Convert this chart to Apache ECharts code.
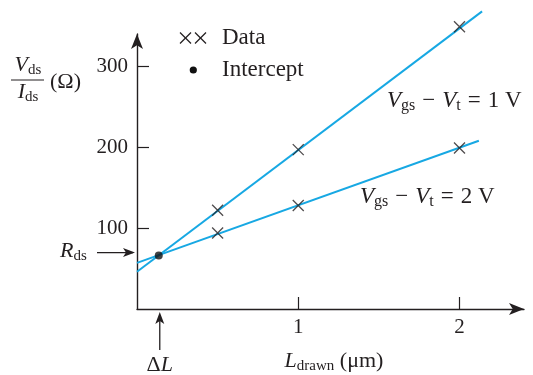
<!DOCTYPE html>
<html>
<head>
<meta charset="utf-8">
<script src="https://cdn.jsdelivr.net/npm/echarts@6/dist/echarts.min.js"></script>
<style>
  html, body { margin: 0; padding: 0; background: #fff; }
  #c { width: 533px; height: 375px; }
</style>
</head>
<body>
<div id="c"></div>
<script>
// Drawn channel length (µm) of the measured devices
const lengths = [0.5, 1, 2];
// Measured Vds/Ids (Ω) for each overdrive
const rVgs1 = [122, 197, 349];
const rVgs2 = [94, 128, 199];
// Straight-line fits through each data set: [L, R] end points
const fitVgs1 = [[0, 46], [2.14, 368]];
const fitVgs2 = [[0, 57], [2.12, 208]];
// Where the two fits cross: [ΔL, Rds]
const intercept = [0.135, 66];
// Axis tick values
const xTicks = [1, 2];
const yTicks = [100, 200, 300];

const F = 'Liberation Serif';
const INK = '#231f20';
const BLUE = '#17a8e3';
const crossPath = 'path://M0,0L10,10M10,0L0,10';

const chart = echarts.init(document.getElementById('c'), null, { renderer: 'canvas' });

const axisCommon = {
  type: 'value',
  splitLine: { show: false },
  axisLine: {
    show: true, onZero: false,
    symbol: ['none', 'arrow'], symbolSize: [9, 15],
    lineStyle: { color: INK, width: 1.4 }
  },
  axisTick: { show: true, inside: true, length: 12, lineStyle: { color: INK, width: 1.2 } },
  axisLabel: { color: INK, fontFamily: F, fontSize: 21 }
};

const crossStyle = { color: 'none', borderColor: INK, borderWidth: 1.3 };

chart.setOption({
  animation: false,
  grid: { left: 137, right: 9, top: 34, bottom: 66, outerBoundsMode: 'none' },
  xAxis: Object.assign({}, axisCommon, {
    min: 0, max: 2.4,
    axisTick: Object.assign({}, axisCommon.axisTick, { customValues: xTicks }),
    axisLabel: Object.assign({}, axisCommon.axisLabel, { customValues: xTicks, margin: 8 })
  }),
  yAxis: Object.assign({}, axisCommon, {
    min: 0, max: 340,
    axisTick: Object.assign({}, axisCommon.axisTick, { customValues: yTicks }),
    axisLabel: Object.assign({}, axisCommon.axisLabel, { customValues: yTicks, margin: 9 })
  }),
  series: [
    { type: 'line', data: fitVgs1, symbol: 'none', clip: false, silent: true,
      lineStyle: { color: BLUE, width: 2 } },
    { type: 'line', data: fitVgs2, symbol: 'none', clip: false, silent: true,
      lineStyle: { color: BLUE, width: 2 } },
    { type: 'scatter', data: lengths.map((x, i) => [x, rVgs1[i]]), clip: false,
      symbol: crossPath, symbolSize: 11, itemStyle: crossStyle, z: 5 },
    { type: 'scatter', data: lengths.map((x, i) => [x, rVgs2[i]]), clip: false,
      symbol: crossPath, symbolSize: 11, itemStyle: crossStyle, z: 5 },
    { type: 'scatter', data: [intercept], clip: false,
      symbol: 'circle', symbolSize: 8, itemStyle: { color: '#111' }, z: 6 }
  ]
});

// Annotations: axis names, legend, fit labels and the Rds / ΔL pointers
const p = chart.convertToPixel({ gridIndex: 0 }, intercept);
const x0 = chart.convertToPixel({ gridIndex: 0 }, [0, 0]);

// rich-text styles: i = italic symbol, n = upright, s = subscript, m = spaced operator
function richSet(size) {
  const sub = Math.round(size * 0.68);
  return {
    i: { fontFamily: F, fontStyle: 'italic', fontSize: size, lineHeight: size + 3, color: INK },
    n: { fontFamily: F, fontSize: size, lineHeight: size + 3, color: INK },
    m: { fontFamily: F, fontSize: size, lineHeight: size + 3, color: INK, padding: [0, 7, 0, 7] },
    s: { fontFamily: F, fontSize: sub, lineHeight: 8, verticalAlign: 'bottom', color: INK }
  };
}

function txt(text, x, y, align, size) {
  return {
    type: 'text', z: 10,
    style: {
      text, x, y, align: align || 'left', verticalAlign: 'middle',
      fontFamily: F, fontSize: size, fill: INK, rich: richSet(size)
    }
  };
}

// arrow head polygon pointing in direction (dx, dy) with tip at (x, y)
function head(x, y, dx, dy) {
  const L = 12, W = 4.5, B = 9;
  const px = -dy, py = dx;
  return {
    type: 'polygon', z: 10,
    shape: { points: [
      [x, y],
      [x - dx * L + px * W, y - dy * L + py * W],
      [x - dx * B, y - dy * B],
      [x - dx * L - px * W, y - dy * L - py * W]
    ] },
    style: { fill: INK }
  };
}

function seg(x1, y1, x2, y2, w) {
  return { type: 'line', z: 10, shape: { x1, y1, x2, y2 }, style: { stroke: INK, lineWidth: w || 1.3 } };
}

// legend cross made of two strokes
function cross(cx, cy) {
  const h = 5.5;
  return [seg(cx - h, cy - h, cx + h, cy + h), seg(cx + h, cy - h, cx - h, cy + h)];
}

const axisY = x0[1];
const axisX = x0[0];

chart.setOption({
  graphic: [].concat(
    // y-axis name as a fraction
    txt('{i|V}{s|ds}', 28, 65, 'center', 22),
    seg(11, 80, 44, 80, 1),
    txt('{i|I}{s|ds}', 28, 92, 'center', 22),
    txt('{n|(Ω)}', 50, 82, 'left', 22),
    // x-axis name
    txt('{i|L}{s|drawn}{n| (μm)}', 334, 361, 'center', 22),
    // legend
    cross(185.5, 38), cross(200.5, 38),
    txt('{n|Data}', 222, 38, 'left', 23),
    { type: 'circle', z: 10, shape: { cx: 193.3, cy: 70, r: 3.6 }, style: { fill: '#111' } },
    txt('{n|Intercept}', 222, 70, 'left', 23),
    // fit labels
    txt('{i|V}{s|gs}{m|−}{i|V}{s|t}{m|=}{n|1 V}', 387, 101, 'left', 23),
    txt('{i|V}{s|gs}{m|−}{i|V}{s|t}{m|=}{n|2 V}', 360, 197, 'left', 23),
    // Rds pointer
    txt('{i|R}{s|ds}', 60, 251, 'left', 22),
    seg(97, p[1] - 3, axisX - 4, p[1] - 3),
    head(axisX - 2, p[1] - 3, 1, 0),
    // ΔL pointer
    seg(p[0] + 1, 350, p[0] + 1, axisY + 6),
    head(p[0] + 1, axisY + 3, 0, -1),
    txt('{n|Δ}{i|L}', p[0] + 1, 365, 'center', 22)
  )
});
</script>
</body>
</html>
